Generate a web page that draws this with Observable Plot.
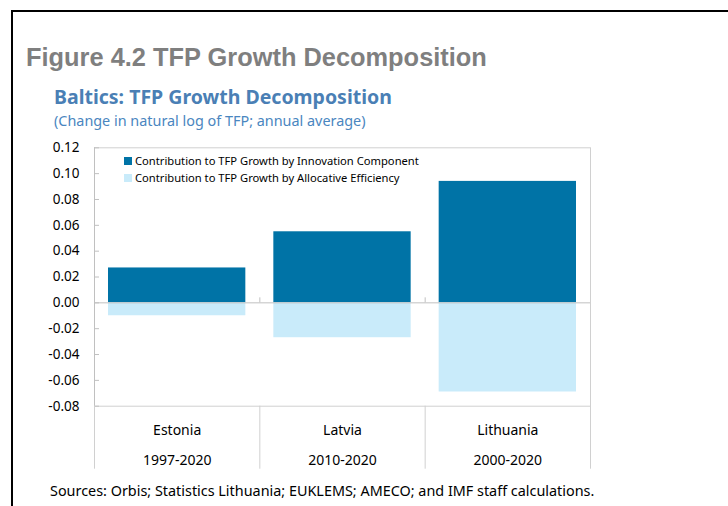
<!DOCTYPE html>
<html><head><meta charset="utf-8">
<script src="https://cdn.jsdelivr.net/npm/d3@7"></script>
<script src="https://cdn.jsdelivr.net/npm/@observablehq/plot@0.6"></script>
<style>
body{margin:0;background:#fff;}
#wrap{position:relative;width:728px;height:506px;overflow:hidden;font-family:"Noto Sans",sans-serif;background:#fff;}
#border{position:absolute;left:11px;top:10px;width:800px;height:600px;border-left:2px solid #000;border-top:2px solid #000;}
#title{position:absolute;left:26px;top:45px;font:bold 25.4px/1 "Liberation Sans",Arial,sans-serif;color:#7f7f7f;white-space:nowrap;}
#sub{position:absolute;left:54px;top:87px;font:bold 19.5px/1 "Noto Sans",sans-serif;color:#4a7fb5;white-space:nowrap;}
#sub2{position:absolute;left:54px;top:114px;font:14.4px/1 "Noto Sans",sans-serif;color:#4a86c0;white-space:nowrap;}
#chart{position:absolute;left:0;top:130px;}
#legend{position:absolute;left:124px;top:152px;font:11.2px/17px "Noto Sans",sans-serif;color:#000;}
#legend div{display:flex;align-items:center;white-space:nowrap;}
#legend span.sw{display:inline-block;width:8px;height:8px;margin-right:3px;}
#source{position:absolute;left:50px;top:484px;font:14.4px/1 "Noto Sans",sans-serif;color:#000;white-space:nowrap;}
</style></head>
<body>
<div id="wrap">
  <div id="border"></div>
  <div id="title"></div>
  <div id="sub"></div>
  <div id="sub2"></div>
  <div id="chart"></div>
  <div id="legend"></div>
  <div id="source"></div>
</div>
<script>
const titleText = "Figure 4.2 TFP Growth Decomposition";
const subtitleText = "Baltics: TFP Growth Decomposition";
const unitText = "(Change in natural log of TFP; annual average)";
const sourceText = "Sources: Orbis; Statistics Lithuania; EUKLEMS; AMECO; and IMF staff calculations.";

const categories = ["Estonia", "Latvia", "Lithuania"];
const periods = ["1997-2020", "2010-2020", "2000-2020"];
const seriesNames = ["Contribution to TFP Growth by Innovation Component", "Contribution to TFP Growth by Allocative Efficiency"];
const innovation = [0.027, 0.055, 0.094];
const allocative = [-0.010, -0.027, -0.069];
const yTicks = [-0.08, -0.06, -0.04, -0.02, 0.00, 0.02, 0.04, 0.06, 0.08, 0.10, 0.12];
const colors = ["#0073a6", "#c9ebfa"];

document.getElementById("title").textContent = titleText;
document.getElementById("sub").textContent = subtitleText;
document.getElementById("sub2").textContent = unitText;
document.getElementById("source").textContent = sourceText;

const legend = document.getElementById("legend");
seriesNames.forEach((n, k) => {
  const row = document.createElement("div");
  const sw = document.createElement("span");
  sw.className = "sw"; sw.style.background = colors[k];
  row.appendChild(sw);
  row.appendChild(document.createTextNode(n));
  legend.appendChild(row);
});

const rowsInno = categories.map((c, i) => ({i0: i, i1: i + 1, value: innovation[i]}));
const rowsAlloc = categories.map((c, i) => ({i0: i, i1: i + 1, value: allocative[i]}));
const bounds = d3.range(0, categories.length + 1);
const mids = categories.map((c, i) => i + 0.5);
const inner = d3.range(1, categories.length);

const chart = Plot.plot({
  width: 728,
  height: 350,
  marginTop: 17.3,
  marginBottom: 74.3,
  marginLeft: 94,
  marginRight: 138,
  style: {fontFamily: "'Noto Sans', sans-serif", background: "transparent", color: "#000"},
  x: {type: "linear", domain: [0, categories.length], axis: null},
  y: {domain: [-0.08, 0.12], axis: null},
  marks: [
    Plot.rectY(rowsInno, {x1: "i0", x2: "i1", y1: 0, y2: "value", fill: colors[0], insetLeft: 14, insetRight: 14}),
    Plot.rectY(rowsAlloc, {x1: "i0", x2: "i1", y1: 0, y2: "value", fill: colors[1], insetLeft: 14, insetRight: 14}),
    Plot.frame({stroke: "#d0d0d0"}),
    Plot.ruleY([0], {stroke: "#c0c0c0"}),
    Plot.ruleX([0], {stroke: "#c0c0c0"}),
    Plot.ruleX(inner, {x: d => d, y1: 0, y2: 0, insetBottom: 5, stroke: "#c0c0c0"}),
    Plot.ruleY(yTicks, {y: d => d, x1: 0, x2: 0, insetRight: -5, stroke: "#c0c0c0"}),
    Plot.axisY(yTicks, {anchor: "left", label: null, tickSize: 0, tickPadding: 15, tickFormat: d => d.toFixed(2), fontSize: 13.5, fill: "#000"}),
    Plot.axisX(bounds, {anchor: "bottom", label: null, tickSize: 63, tickFormat: () => "", stroke: "#d0d0d0"}),
    Plot.axisX(mids, {anchor: "bottom", label: null, tickSize: 0, tickPadding: 19, tickFormat: v => categories[Math.floor(v)], fontSize: 14, fill: "#000"}),
    Plot.axisX(mids, {anchor: "bottom", label: null, tickSize: 0, tickPadding: 49, tickFormat: v => periods[Math.floor(v)], fontSize: 14, fill: "#000"})
  ]
});
document.getElementById("chart").appendChild(chart);
</script>
</body></html>
